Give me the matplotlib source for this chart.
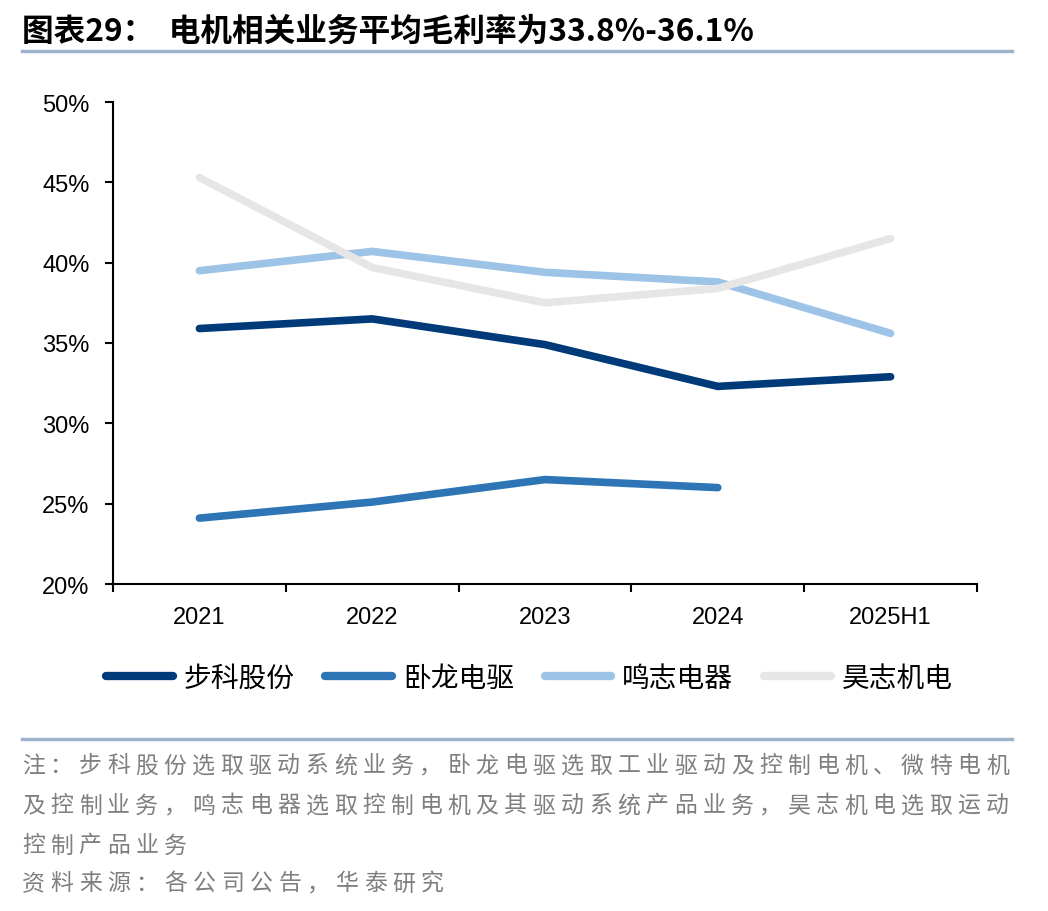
import matplotlib
matplotlib.use("Agg")
import matplotlib.pyplot as plt
import numpy as np

plt.rcParams['font.family'] = ['Noto Sans CJK SC', 'DejaVu Sans']

# data
years = ["2021", "2022", "2023", "2024", "2025H1"]
buke = [35.9, 36.5, 34.9, 32.3, 32.9]
wolong = [24.1, 25.1, 26.5, 26.0]
mingzhi = [39.5, 40.7, 39.4, 38.8, 35.6]
haozhi = [45.3, 39.7, 37.5, 38.4, 41.5]
names = ["步科股份", "卧龙电驱", "鸣志电器", "昊志机电"]
colors = ["#003A78", "#2E75B6", "#9DC3E6", "#E6E6E6"]
yticks = [20, 25, 30, 35, 40, 45, 50]

title = "图表29：  电机相关业务平均毛利率为33.8%-36.1%"
note = ["注：步科股份选取驱动系统业务，卧龙电驱选取工业驱动及控制电机、微特电机",
        "及控制业务，鸣志电器选取控制电机及其驱动系统产品业务，昊志机电选取运动",
        "控制产品业务"]
source = "资料来源：各公司公告，华泰研究"

W, H = 1048, 912
fig = plt.figure(figsize=(W/100, H/100), dpi=100)
ax = fig.add_axes([113/W, 1-585/H, (977-113)/W, (585-103)/H])

x = np.arange(len(years))
series = [buke, wolong, mingzhi, haozhi]
for s, name, c in zip(series, names, colors):
    ax.plot(x[:len(s)], s, color=c, lw=5.5, label=name, solid_capstyle='round',
            solid_joinstyle='round')

num_font = ['Liberation Sans', 'DejaVu Sans']
ax.set_xlim(-0.5, len(years) - 0.5)
ax.set_ylim(20, 50)
ax.set_yticks(yticks)
ax.set_yticklabels([f"{v}%" for v in yticks], fontsize=17, family=num_font)
ax.set_xticks(np.arange(-0.5, len(years), 1.0))
ax.set_xticklabels([])
ax.set_xticks(x, minor=True)
ax.set_xticklabels(years, minor=True, fontsize=17, family=num_font)
ax.tick_params(axis='x', which='minor', length=0, pad=16)
ax.tick_params(axis='x', which='major', length=6, width=1.5, direction='out')
ax.tick_params(axis='y', length=6, width=1.5, direction='out', pad=11)
for sp in ['top', 'right']:
    ax.spines[sp].set_visible(False)
for sp in ['left', 'bottom']:
    ax.spines[sp].set_linewidth(1.5)

leg = fig.legend(loc='center', bbox_to_anchor=(0.505, 1-679/H), ncol=4, frameon=False,
                 fontsize=20, handlelength=2.4, columnspacing=1.1, handletextpad=0.4)
for h in leg.get_lines():
    h.set_linewidth(6)

# title and separators
fig.text(22/W, 1-32/H, title, fontsize=22.8, fontweight='bold', va='center', ha='left')
fig.add_artist(plt.Line2D([22/W, 1012/W], [1-52/H, 1-52/H], color="#9EB4CC", lw=2.5))
fig.add_artist(plt.Line2D([22/W, 1012/W], [1-740/H, 1-740/H], color="#9EB4CC", lw=2.5))

# notes: spread characters evenly like the justified original
def spaced(text, y, step):
    for k, ch in enumerate(text):
        fig.text((22 + step*k)/W, 1-y/H, ch, fontsize=16.5, color="#7F7F7F",
                 va='center', ha='left')

spaced(note[0], 766, 28.35)
spaced(note[1], 806, 28.35)
spaced(note[2], 846, 28.35)
spaced(source, 884, 28.5)

fig.savefig("out.png", dpi=100)
